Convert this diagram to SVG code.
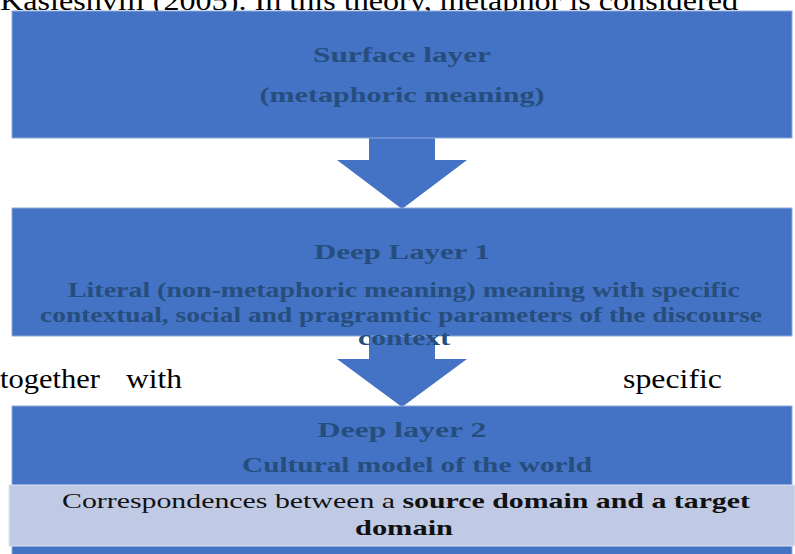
<svg xmlns="http://www.w3.org/2000/svg" width="795" height="554" viewBox="0 0 795 554" font-family="Liberation Serif, DejaVu Serif, serif">
<style>
.bg{font-size:28px;fill:#000}
.box{fill:#4472C4;stroke:#8FAADC;stroke-width:1}
.arr{fill:#4472C4}
.t{font-weight:bold;font-size:22px;fill:#264E7D;text-anchor:middle}
.c{font-size:22px;fill:#111;text-anchor:middle}
</style>
<rect width="795" height="554" fill="#fff"/>
<text class="bg" x="0" y="10" textLength="738" lengthAdjust="spacingAndGlyphs">Kasleshvili (2005). In this theory, metaphor is considered</text>
<text class="bg" x="0" y="388" textLength="100" lengthAdjust="spacingAndGlyphs">together</text>
<text class="bg" x="126" y="388" textLength="56" lengthAdjust="spacingAndGlyphs">with</text>
<text class="bg" x="623" y="388" textLength="99" lengthAdjust="spacingAndGlyphs">specific</text>
<g id="connectors">
<polygon class="arr" points="369,138 435,138 435,160 467,160 402,209 337,160 369,160"/>
<polygon class="arr" points="369,336 435,336 435,359 467,359 402,407 337,359 369,359"/>
</g>
<g id="surface">
<rect class="box" x="12" y="11" width="780" height="127"/>
<text class="t" x="402" y="62" textLength="178" lengthAdjust="spacingAndGlyphs">Surface layer</text>
<text class="t" x="402" y="102" textLength="285" lengthAdjust="spacingAndGlyphs">(metaphoric  meaning)</text>
</g>
<g id="deep1">
<rect class="box" x="12" y="208" width="780" height="128"/>
<text class="t" x="402" y="259" textLength="176" lengthAdjust="spacingAndGlyphs">Deep Layer 1</text>
<text class="t" x="404" y="297" textLength="672" lengthAdjust="spacingAndGlyphs">Literal (non-metaphoric meaning) meaning with specific</text>
<text class="t" x="401" y="322" textLength="722" lengthAdjust="spacingAndGlyphs">contextual, social and pragramtic parameters of the discourse</text>
<text class="t" x="404" y="345" textLength="92" lengthAdjust="spacingAndGlyphs">context</text>
</g>
<g id="deep2">
<rect class="box" x="12" y="406" width="780" height="150"/>
<text class="t" x="402" y="437" textLength="169" lengthAdjust="spacingAndGlyphs">Deep layer 2</text>
<text class="t" x="417" y="472" textLength="350" lengthAdjust="spacingAndGlyphs">Cultural model of the world</text>
</g>
<g id="correspondences">
<rect x="9" y="485" width="786" height="61" fill="#C0CAE4" stroke="#DDE3F1" stroke-width="1"/>
<text class="c" x="406" y="508" textLength="688" lengthAdjust="spacingAndGlyphs">Correspondences between a <tspan font-weight="bold">source domain and a target</tspan></text>
<text class="c" x="404" y="535" font-weight="bold" textLength="98" lengthAdjust="spacingAndGlyphs">domain</text>
</g>
</svg>
